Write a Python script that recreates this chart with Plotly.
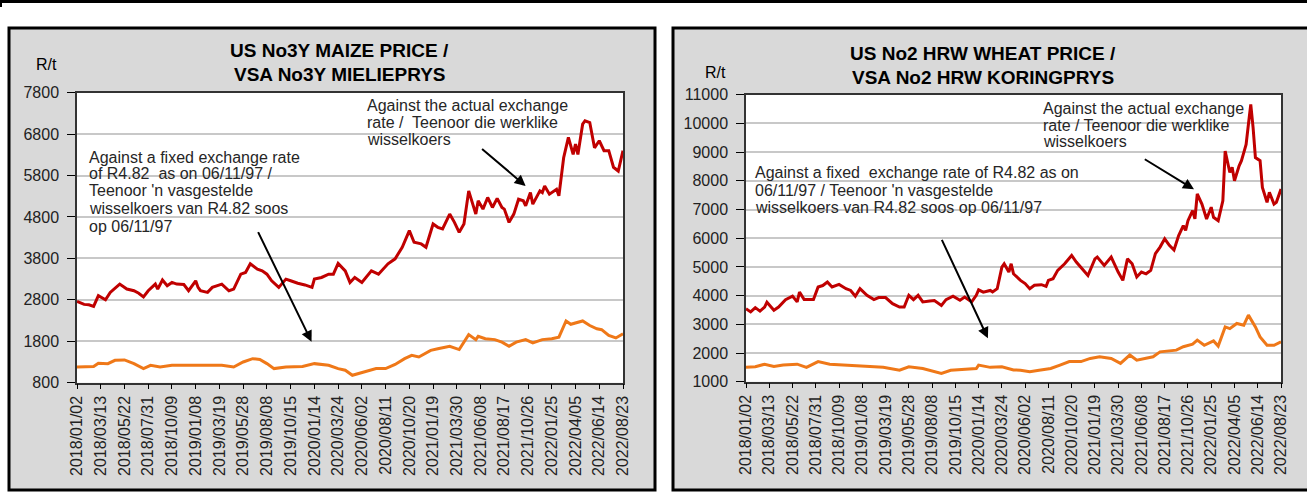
import plotly.graph_objects as go

W, H = 1307, 493
FONT = "Liberation Sans, Arial, sans-serif"

# ---------------- data ----------------
tick_dates = ["2018/01/02", "2018/03/13", "2018/05/22", "2018/07/31", "2018/10/09",
              "2019/01/08", "2019/03/19", "2019/05/28", "2019/08/08", "2019/10/15",
              "2020/01/14", "2020/03/24", "2020/06/02", "2020/08/11", "2020/10/20",
              "2021/01/19", "2021/03/30", "2021/06/08", "2021/08/17", "2021/10/26",
              "2022/01/25", "2022/04/05", "2022/06/14", "2022/08/23"]
tick_weeks = [0, 10, 20, 30, 40, 50, 60, 70, 80, 90, 100, 110, 120, 130, 140,
              150, 160, 170, 180, 190, 200, 210, 220, 230]

# Maize, actual exchange rate (R/t)
maize_actual_week = [0, 3, 5, 7, 9, 12, 14, 18, 21, 24, 26, 28, 30, 33, 34, 36, 38, 40, 42, 45,
                     47, 50, 51, 52, 55, 57, 61, 64, 66, 69, 71, 73, 76, 78, 80, 82, 85, 88, 90, 93,
                     96, 99, 100, 103, 106, 108, 110, 113, 115, 117, 120, 124, 127, 131, 134, 137,
                     140, 142, 145, 147, 150, 152, 154, 157, 159, 161, 163, 165, 168, 169, 171, 173,
                     175, 177, 179, 180, 182, 184, 186, 188, 189, 191, 192, 195, 196, 197, 199, 202,
                     203, 205, 207, 209, 210, 211, 213, 214, 216, 218, 220, 222, 224, 226, 228, 230]
maize_actual = [2760, 2690, 2680, 2640, 2900, 2800, 2980, 3180, 3060, 3020, 2960, 2870, 3020, 3180,
                3060, 3280, 3140, 3220, 3180, 3170, 3020, 3260, 3100, 3020, 2980, 3100, 3180, 3020,
                3060, 3420, 3460, 3670, 3540, 3500, 3420, 3260, 3100, 3300, 3260, 3200, 3160, 3100,
                3300, 3340, 3420, 3420, 3680, 3500, 3220, 3340, 3220, 3500, 3420, 3670, 3790, 4070,
                4470, 4190, 4150, 4070, 4630, 4550, 4510, 4870, 4670, 4430, 4630, 5430, 4870, 5190,
                4990, 5270, 5030, 5250, 5030, 4990, 4670, 4870, 5230, 5190, 5070, 5390, 5110, 5430,
                5390, 5550, 5350, 5470, 5310, 6230, 6720, 6310, 6560, 6310, 7040, 7120, 7080, 6470,
                6640, 6400, 6400, 6000, 5910, 6400]

# Maize, fixed exchange rate R4.82 (R/t)
maize_fixed_week = [0, 4, 7, 9, 13, 16, 20, 24, 28, 31, 35, 40, 46, 52, 56, 61, 66, 70, 74, 77,
                    80, 83, 88, 95, 100, 106, 110, 113, 116, 119, 121, 126, 130, 134, 138, 141,
                    144, 149, 152, 157, 161, 165, 168, 169, 172, 176, 179, 182, 185, 189, 192,
                    196, 200, 203, 206, 208, 213, 216, 219, 221, 224, 227, 230]
maize_fixed = [1180, 1180, 1190, 1270, 1260, 1340, 1350, 1260, 1140, 1220, 1180, 1220, 1220, 1220,
               1220, 1220, 1180, 1300, 1380, 1360, 1260, 1140, 1180, 1190, 1260, 1220, 1140, 1100,
               980, 1030, 1060, 1140, 1140, 1240, 1380, 1460, 1420, 1580, 1620, 1680, 1600, 1960,
               1840, 1920, 1860, 1840, 1780, 1680, 1780, 1840, 1760, 1840, 1860, 1900, 2290, 2210,
               2290, 2180, 2100, 2080, 1940, 1880, 1980]

# Wheat, actual exchange rate (R/t)
wheat_actual_week = [0, 2, 4, 6, 8, 9, 12, 14, 17, 20, 22, 23, 25, 29, 31, 33, 35, 37, 40, 43, 45,
                     47, 49, 52, 55, 57, 60, 63, 66, 68, 70, 72, 74, 76, 79, 81, 84, 86, 89, 92, 94,
                     97, 99, 100, 102, 105, 106, 108, 110, 111, 113, 114, 115, 118, 120, 122, 124,
                     127, 129, 130, 132, 134, 137, 139, 140, 142, 144, 147, 150, 151, 154, 156, 157,
                     160, 162, 164, 166, 168, 170, 172, 174, 176, 178, 180, 182, 184, 186, 188, 189,
                     190, 192, 193, 194, 196, 198, 200, 201, 203, 205, 206, 208, 209, 210, 212, 213,
                     214, 215, 216, 217, 218, 219, 221, 222, 224, 225, 227, 228, 230]
wheat_actual = [3540, 3430, 3580, 3460, 3600, 3770, 3490, 3600, 3860, 3980, 3780, 4120, 3860, 3860,
                4300, 4350, 4470, 4300, 4390, 4240, 4180, 3980, 4240, 4010, 3860, 3930, 3930, 3720,
                3600, 3600, 4010, 3860, 4010, 3780, 3810, 3830, 3660, 3860, 3980, 3840, 3950, 3780,
                4010, 4200, 4120, 4180, 4130, 4240, 4990, 5110, 4820, 5110, 4760, 4530, 4420, 4240,
                4360, 4380, 4320, 4530, 4590, 4880, 5110, 5280, 5400, 5170, 4990, 4700, 5280, 5340,
                5050, 5230, 5340, 4820, 4530, 5280, 5110, 4650, 4820, 4760, 4880, 5460, 5690, 5980,
                5750, 5590, 6090, 6440, 6270, 6610, 6960, 6670, 7540, 7190, 6670, 7080, 6730, 6610,
                7300, 9040, 8290, 8470, 8000, 8520, 8700, 8980, 9270, 9970, 10660, 9850, 8810, 8700,
                7770, 7250, 7600, 7190, 7250, 7710]

# Wheat, fixed exchange rate R4.82 (R/t)
wheat_fixed_week = [0, 4, 8, 12, 16, 22, 26, 31, 36, 42, 47, 53, 59, 66, 70, 76, 80, 84, 88, 93,
                    99, 100, 105, 110, 115, 118, 122, 126, 131, 135, 139, 144, 148, 152, 157, 161,
                    165, 168, 172, 175, 178, 183, 185, 188, 192, 194, 197, 201, 203, 206, 208, 211,
                    214, 216, 219, 221, 224, 227, 230]
wheat_fixed = [1500, 1520, 1610, 1530, 1580, 1610, 1500, 1700, 1610, 1580, 1580, 1550, 1500, 1400,
               1520, 1460, 1380, 1290, 1400, 1430, 1460, 1580, 1500, 1520, 1410, 1400, 1350, 1400,
               1460, 1580, 1700, 1700, 1810, 1870, 1810, 1640, 1930, 1750, 1810, 1870, 2040, 2080,
               2100, 2220, 2310, 2450, 2270, 2420, 2240, 2910, 2850, 3030, 2970, 3320, 2910, 2560,
               2270, 2270, 2390]

maize_ticks = [800, 1800, 2800, 3800, 4800, 5800, 6800, 7800]
wheat_ticks = [1000, 2000, 3000, 4000, 5000, 6000, 7000, 8000, 9000, 10000, 11000]

RED = "#c00000"
ORANGE = "#ef7818"

# ---------------- figure ----------------
fig = go.Figure()
fig.add_trace(go.Scatter(x=maize_actual_week, y=maize_actual, mode="lines",
                         line=dict(color=RED, width=3), xaxis="x", yaxis="y"))
fig.add_trace(go.Scatter(x=maize_fixed_week, y=maize_fixed, mode="lines",
                         line=dict(color=ORANGE, width=3), xaxis="x", yaxis="y"))
fig.add_trace(go.Scatter(x=wheat_actual_week, y=wheat_actual, mode="lines",
                         line=dict(color=RED, width=3), xaxis="x2", yaxis="y2"))
fig.add_trace(go.Scatter(x=wheat_fixed_week, y=wheat_fixed, mode="lines",
                         line=dict(color=ORANGE, width=3), xaxis="x2", yaxis="y2"))


def px_x(p):
    return p / W


def px_y(p):
    return 1 - p / H


xcommon = dict(tickmode="array", tickvals=tick_weeks, ticktext=tick_dates, tickangle=-90,
               ticks="outside", ticklen=5, tickcolor="black", tickwidth=1,
               showline=True, linecolor="#333333", linewidth=1.5, mirror=True,
               showgrid=False, zeroline=False, range=[0, 230], automargin=False,
               tickfont=dict(family=FONT, size=16, color="#222222"))
ycommon = dict(tickmode="array", ticks="outside", ticklen=8, tickcolor="black", tickwidth=1,
               showline=True, linecolor="#333333", linewidth=1.5, mirror=True,
               showgrid=True, gridcolor="#c8c8c8", gridwidth=1.5, zeroline=False,
               ticklabelstandoff=5, tickformat="d", automargin=False,
               tickfont=dict(family=FONT, size=16, color="#222222"))

fig.update_layout(
    template="none",
    width=W, height=H,
    autosize=False,
    margin=dict(l=0, r=0, t=0, b=0, pad=0),
    paper_bgcolor="white",
    plot_bgcolor="rgba(0,0,0,0)",
    showlegend=False,
    xaxis=dict(xcommon, domain=[px_x(77), px_x(623)], anchor="y"),
    yaxis=dict(ycommon, domain=[px_y(382.7), px_y(92.7)], range=[800, 7800],
               tickvals=maize_ticks, anchor="x"),
    xaxis2=dict(xcommon, domain=[px_x(746), px_x(1281)], anchor="y2"),
    yaxis2=dict(ycommon, domain=[px_y(381.7), px_y(94.7)], range=[1000, 11000],
                tickvals=wheat_ticks, anchor="x2"),
)

shapes = [
    # top frame line
    dict(type="line", xref="paper", yref="paper", x0=0, x1=1, y0=px_y(1.5), y1=px_y(1.5),
         line=dict(color="black", width=3), layer="below"),
    dict(type="line", xref="paper", yref="paper", x0=px_x(1), x1=px_x(1), y0=px_y(0), y1=px_y(7),
         line=dict(color="black", width=2), layer="below"),
    # panels
    dict(type="rect", xref="paper", yref="paper", x0=px_x(9), x1=px_x(655), y0=px_y(490),
         y1=px_y(28), fillcolor="#d9d9d9", line=dict(color="black", width=3), layer="below"),
    dict(type="rect", xref="paper", yref="paper", x0=px_x(673), x1=px_x(1330), y0=px_y(490),
         y1=px_y(28), fillcolor="#d9d9d9", line=dict(color="black", width=3), layer="below"),
    # white plot areas
    dict(type="rect", xref="x domain", yref="y domain", x0=0, x1=1, y0=0, y1=1,
         fillcolor="white", line=dict(width=0), layer="below"),
    dict(type="rect", xref="x2 domain", yref="y2 domain", x0=0, x1=1, y0=0, y1=1,
         fillcolor="white", line=dict(width=0), layer="below"),
]
fig.update_layout(shapes=shapes)

ann = []
TXT = dict(family=FONT, size=16, color="#262626")


def paper_text(x, y, text, size=16, xanchor="center"):
    ann.append(dict(xref="paper", yref="paper", x=px_x(x), y=px_y(y), text=text,
                    showarrow=False, xanchor=xanchor, yanchor="middle",
                    font=dict(family=FONT, size=size, color="black")))


def lines_text(xref, yref, x, ys, texts):
    for yy, t in zip(ys, texts):
        ann.append(dict(xref=xref, yref=yref, x=x, y=yy, text=t, showarrow=False,
                        xanchor="left", yanchor="middle", font=TXT))


def arrow(xref, yref, x, y, ax, ay):
    ann.append(dict(xref=xref, yref=yref, axref=xref, ayref=yref, x=x, y=y, ax=ax, ay=ay,
                    text="", showarrow=True, arrowhead=2, arrowsize=1.1, arrowwidth=2,
                    arrowcolor="black", standoff=0))


# titles
paper_text(339, 50, "<b>US No3Y MAIZE PRICE /</b>", size=19)
paper_text(340, 74, "<b>VSA No3Y MIELIEPRYS</b>", size=19)
paper_text(983, 54, "<b>US No2 HRW WHEAT PRICE /</b>", size=19)
paper_text(983, 77, "<b>VSA No2 HRW KORINGPRYS</b>", size=19)
paper_text(46, 64, "R/t", size=16)
paper_text(716, 73, "R/t", size=16)

# left chart notes
lines_text("x", "y", 4.0, [6241, 5838, 5435, 5010, 4566],
           ["Against a fixed exchange rate", "of R4.82  as on 06/11/97 /",
            "Teenoor 'n vasgestelde", "wisselkoers van R4.82 soos", "op 06/11/97"])
arrow("x", "y", 98.8, 1790, 76, 4470)
lines_text("x", "y", 121.5, [7480, 7076, 6676],
           ["Against the actual exchange", "rate /  Teenoor die werklike", "wisselkoers"])
arrow("x", "y", 189, 5548, 170, 6473)

# right chart notes
lines_text("x2", "y2", 3.0, [8282, 7679, 7076],
           ["Against a fixed  exchange rate of R4.82 as on",
            "06/11/97 / Teenoor 'n vasgestelde",
            "wisselkoers van R4.82 soos op 06/11/97"])
arrow("x2", "y2", 104, 2512, 83.9, 5996)
lines_text("x2", "y2", 127, [10525, 9943, 9362],
           ["Against the actual exchange", "rate / Teenoor die werklike", "wisselkoers"])
arrow("x2", "y2", 192.6, 7703, 170.8, 8783)

fig.update_layout(annotations=ann)
fig.write_html("out.html", config={"displayModeBar": False},
               post_script="document.body.style.margin='0px';document.body.style.overflow='hidden';")
